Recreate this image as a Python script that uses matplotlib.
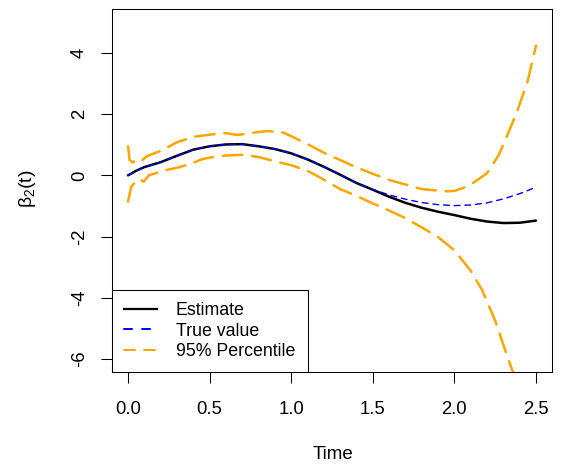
import numpy as np
import matplotlib
matplotlib.use("Agg")
import matplotlib.pyplot as plt
from matplotlib.lines import Line2D

plt.rcParams['font.family'] = ['Liberation Sans', 'DejaVu Sans']
plt.rcParams['mathtext.fontset'] = 'custom'
plt.rcParams['mathtext.rm'] = 'Liberation Sans'
plt.rcParams['mathtext.it'] = 'Liberation Sans'
plt.rcParams['lines.scale_dashes'] = False

# estimate
t_est = [0, 0.05, 0.1, 0.2, 0.3, 0.4, 0.5, 0.6, 0.7, 0.8, 0.9, 1.0, 1.1, 1.2,
         1.3, 1.4, 1.5, 1.6, 1.7, 1.8, 1.9, 2.0, 2.1, 2.2, 2.3, 2.4, 2.5]
v_est = [0.0, 0.15, 0.27, 0.43, 0.64, 0.84, 0.95, 1.01, 1.02, 0.95, 0.86, 0.72,
         0.52, 0.28, 0.02, -0.25, -0.47, -0.70, -0.90, -1.06, -1.19, -1.30,
         -1.42, -1.51, -1.56, -1.55, -1.48]

# true value
t_true = [0, 0.05, 0.1, 0.2, 0.3, 0.4, 0.5, 0.6, 0.7, 0.8, 0.9, 1.0, 1.1, 1.2,
          1.3, 1.4, 1.5, 1.6, 1.7, 1.8, 1.9, 2.0, 2.1, 2.2, 2.3, 2.4, 2.5]
v_true = [0.0, 0.15, 0.27, 0.43, 0.64, 0.84, 0.95, 1.01, 1.02, 0.95, 0.86, 0.72,
          0.52, 0.28, 0.02, -0.25, -0.46, -0.64, -0.78, -0.89, -0.96, -0.99,
          -0.97, -0.90, -0.77, -0.60, -0.39]

# 95% percentile upper
t_up = [0, 0.01, 0.03, 0.05, 0.08, 0.12, 0.2, 0.3, 0.4, 0.5, 0.6, 0.67, 0.75,
        0.85, 0.95, 1.0, 1.1, 1.2, 1.3, 1.4, 1.5, 1.6, 1.7, 1.8, 1.9, 1.95,
        2.0, 2.05, 2.1, 2.15, 2.2, 2.27, 2.3, 2.38, 2.45, 2.5]
v_up = [0.95, 0.50, 0.42, 0.52, 0.47, 0.64, 0.80, 1.08, 1.26, 1.33, 1.38, 1.32,
        1.38, 1.45, 1.40, 1.28, 1.02, 0.74, 0.50, 0.26, 0.05, -0.15, -0.30,
        -0.45, -0.50, -0.52, -0.51, -0.42, -0.30, -0.12, 0.07, 0.65, 1.0, 2.02,
        3.1, 4.24]

# 95% percentile lower
t_lo = [0, 0.02, 0.055, 0.075, 0.095, 0.13, 0.17, 0.23, 0.31, 0.39, 0.45, 0.5,
        0.6, 0.7, 0.8, 0.9, 1.0, 1.1, 1.2, 1.3, 1.4, 1.5, 1.6, 1.7, 1.8, 1.9,
        2.0, 2.1, 2.17, 2.25, 2.32, 2.36, 2.4, 2.5]
v_lo = [-0.86, -0.37, -0.15, -0.13, -0.21, 0.01, 0.07, 0.17, 0.26, 0.39, 0.52,
        0.58, 0.65, 0.67, 0.60, 0.46, 0.33, 0.15, -0.14, -0.45, -0.67, -0.92,
        -1.15, -1.40, -1.70, -2.02, -2.45, -3.12, -3.75, -4.75, -5.85, -6.45,
        -7.1, -9.2]

x_ticks = [0.0, 0.5, 1.0, 1.5, 2.0, 2.5]
y_ticks = [-6, -4, -2, 0, 2, 4]

orange = '#FFA500'

fig = plt.figure(figsize=(5.62, 4.70), dpi=100)
ax = fig.add_axes([0.1988, 0.2079, 0.7839, 0.7730])

ax.plot(t_est, v_est, color='black', lw=1.8, solid_capstyle='round', zorder=3)
ax.plot(t_true, v_true, color='#0000FF', lw=1.0, dashes=(4.2, 3.5),
        dash_capstyle='round', zorder=4)
ax.plot(t_up, v_up, color=orange, lw=1.8, dashes=(14, 7),
        dash_capstyle='round', zorder=2)
ax.plot(t_lo, v_lo, color=orange, lw=1.8, dashes=(14, 7),
        dash_capstyle='round', zorder=2)

ax.set_xlim(-0.1, 2.6)
ax.set_ylim(-6.44, 5.44)
ax.set_xticks(x_ticks)
ax.set_xticklabels(['0.0', '0.5', '1.0', '1.5', '2.0', '2.5'])
ax.set_yticks(y_ticks)
ax.set_yticklabels([str(v) for v in y_ticks], rotation=90, va='center')

for s in ax.spines.values():
    s.set_linewidth(0.75)
    s.set_color('black')
ax.tick_params(length=8, width=0.75, labelsize=13.3, color='black')
ax.tick_params(axis='x', pad=12.9)
ax.tick_params(axis='y', pad=9)

ax.set_xlabel('Time', fontsize=13.5)
ax.xaxis.set_label_coords(0.502, -0.203)
ax.set_ylabel(r'$\mathrm{\beta_2(t)}$', fontsize=14)
ax.yaxis.set_label_coords(-0.167, 0.505)

handles = [
    Line2D([], [], color='black', lw=1.6),
    Line2D([], [], color='#0000FF', lw=1.45, dashes=(5.8, 7.2), dash_capstyle='round'),
    Line2D([], [], color=orange, lw=1.45, dashes=(7.9, 6.5), dash_capstyle='round'),
]
leg = ax.legend(handles, ['Estimate', 'True value', '95% Percentile'],
                loc='lower left', bbox_to_anchor=(0, 0), borderaxespad=0,
                fontsize=12.8, handlelength=1.85, handletextpad=1.05,
                labelspacing=0.18, borderpad=0.7, fancybox=False,
                framealpha=1, edgecolor='black')
leg.get_frame().set_linewidth(0.75)

fig.savefig('out.png', dpi=100)
